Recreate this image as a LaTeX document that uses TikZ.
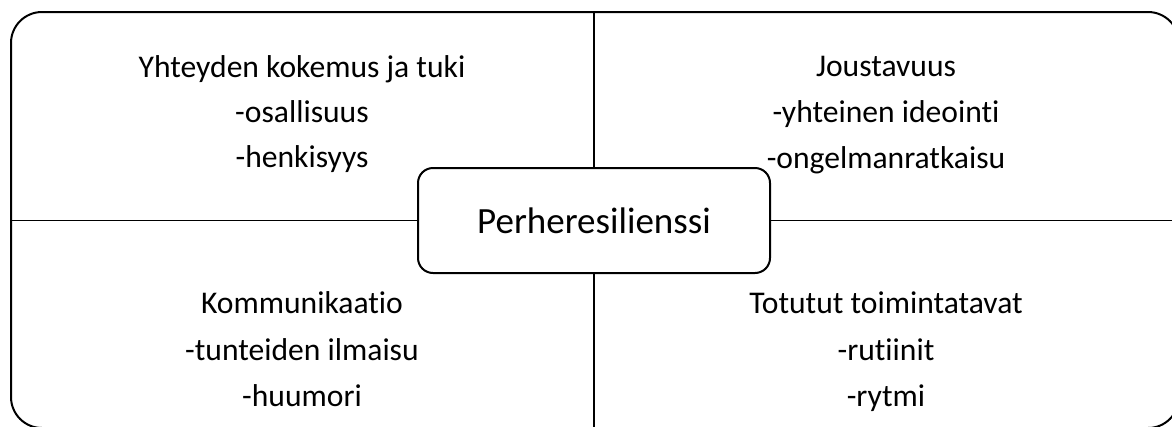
\documentclass[tikz,border=0pt]{standalone}
\usepackage{fontspec}
\setmainfont{Carlito}[RawFeature=-liga]
\begin{document}
\begin{tikzpicture}[x=1pt,y=-1pt,
  frame/.style={draw=black,line width=2pt,rounded corners=31pt},
  divider/.style={draw=black,line width=1.6pt},
  centerbox/.style={draw=black,line width=2pt,rounded corners=15pt,fill=white,
    minimum width=352pt,minimum height=105pt,inner sep=0pt,
    font=\fontsize{37}{44}\selectfont},
  label/.style={anchor=base,inner sep=0pt,font=\fontsize{31.6}{38}\selectfont}]
\useasboundingbox (0,0) rectangle (1172,426);
\clip (0,0) rectangle (1172,426);
\draw[frame] (11,12) rectangle (1179,428);
\coordinate (top) at (594,12);
\coordinate (bottom) at (594,428);
\coordinate (left) at (11,220.5);
\coordinate (right) at (1179,220.5);
\node[centerbox] (c) at (594,220.5) {Perheresilienssi};
\draw[divider] (top) -- (c.north);
\draw[divider] (c.south) -- (bottom);
\draw[divider] (left) -- (c.west);
\draw[divider] (c.east) -- (right);
% top-left
\node[label] (a1) at (302,77) {Yhteyden kokemus ja tuki};
\node[label] (a2) at (302,122.5) {-osallisuus};
\node[label] (a3) at (302,167) {-henkisyys};
% top-right
\node[label] (b1) at (886,76) {Joustavuus};
\node[label] (b2) at (886,122) {-yhteinen ideointi};
\node[label] (b3) at (886,168) {-ongelmanratkaisu};
% bottom-left
\node[label] (d1) at (302,313) {Kommunikaatio};
\node[label] (d2) at (302,360) {-tunteiden ilmaisu};
\node[label] (d3) at (302,406) {-huumori};
% bottom-right
\node[label] (e1) at (886,313) {Totutut toimintatavat};
\node[label] (e2) at (886,360) {-rutiinit};
\node[label] (e3) at (886,406) {-rytmi};
\end{tikzpicture}
\end{document}
